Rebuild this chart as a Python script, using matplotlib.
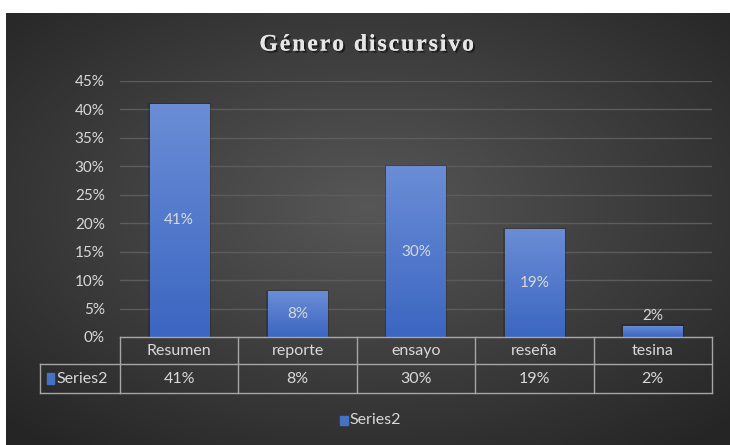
import numpy as np
import matplotlib.pyplot as plt
from matplotlib.transforms import blended_transform_factory
from matplotlib.patches import Rectangle
import matplotlib.patheffects as pe

categories = ['Resumen', 'reporte', 'ensayo', 'reseña', 'tesina']
values = [0.41, 0.08, 0.30, 0.19, 0.02]
labels = ['41%', '8%', '30%', '19%', '2%']
series_name = 'Series2'
title = 'Género discursivo'
yticks = [0, 0.05, 0.10, 0.15, 0.20, 0.25, 0.30, 0.35, 0.40, 0.45]

W, H = 730, 445
txt_col = '#d9d9d9'
line_col = '#a6a6a6'
bar_col = '#4472c4'
font = 'Lato'

fig = plt.figure(figsize=(W / 100, H / 100), dpi=100)
fig.patch.set_facecolor('white')

def fx(x):
    return x / W

def fy(y):
    return 1 - y / H

# dark radial background
bg = fig.add_axes([fx(6), 0, 1 - fx(6), fy(13)])
bg.axis('off')
yy, xx = np.mgrid[0:1:300j, 0:1:500j]
r = np.sqrt(((xx - 0.5) / 0.75) ** 2 + ((yy - 0.45) / 0.75) ** 2)
shade = np.clip(0x57 - (0x57 - 0x25) * r / 0.95, 0x25, 0x57) / 255
bg.imshow(np.dstack([shade, shade, shade]), aspect='auto', extent=[0, 1, 0, 1])
bg.set_xlim(0, 1)
bg.set_ylim(0, 1)

# main axes
ax = fig.add_axes([fx(120), fy(337), fx(712) - fx(120), fy(81) - fy(337)])
ax.patch.set_alpha(0)
x = np.arange(len(categories))
bars = ax.bar(x, values, width=0.5, color=bar_col, zorder=3)

grad = np.linspace(0, 1, 200)[:, None]
top = np.array([0x6b, 0x8d, 0xd6]) / 255
bot = np.array([0x3b, 0x66, 0xc1]) / 255
grad_img = top * (1 - grad[..., None]) + bot * grad[..., None]
for b in bars:
    x0, w, h = b.get_x(), b.get_width(), b.get_height()
    ax.add_patch(Rectangle((x0 - 0.015, 0), w + 0.03, h + 0.002, color='black',
                           alpha=0.18, zorder=2, lw=0))
    im = ax.imshow(grad_img, extent=[x0, x0 + w, 0, h], aspect='auto', zorder=4)
    im.set_clip_path(b)

for xi, v, lab in zip(x, values, labels):
    if v >= 0.05:
        ax.text(xi, v / 2, lab, ha='center', va='center', color=txt_col,
                fontsize=11, family=font, zorder=5)
    else:
        ax.text(xi, v + 0.004, lab, ha='center', va='bottom', color=txt_col,
                fontsize=11, family=font, zorder=5)

ax.set_xlim(-0.5, len(categories) - 0.5)
ax.set_ylim(0, 0.45)
ax.set_yticks(yticks)
ax.set_yticklabels([f'{int(round(t * 100))}%' for t in yticks], color=txt_col,
                   fontsize=11, family=font)
ax.tick_params(axis='y', length=0, pad=11)
ax.set_xticks([])
ax.grid(axis='y', color='#5c5c5c', lw=1, zorder=1)
for s in ax.spines.values():
    s.set_visible(False)

# data table under the plot
tr = blended_transform_factory(ax.transData, fig.transFigure)
ft = fig.transFigure
edges = np.arange(len(categories) + 1) - 0.5
lk = dict(color=line_col, lw=1, zorder=6)
for yl in (337, 364, 393):
    ax.plot([edges[0], edges[-1]], [fy(yl), fy(yl)], transform=tr, clip_on=False, **lk)
for e in edges:
    ax.plot([e, e], [fy(337), fy(393)], transform=tr, clip_on=False, **lk)
fig.add_artist(plt.Line2D([fx(40), fx(120)], [fy(364), fy(364)], transform=ft, **lk))
fig.add_artist(plt.Line2D([fx(40), fx(120)], [fy(393), fy(393)], transform=ft, **lk))
fig.add_artist(plt.Line2D([fx(40), fx(40)], [fy(364), fy(393)], transform=ft, **lk))

for xi, cat, lab in zip(x, categories, labels):
    ax.text(xi, fy(351), cat, transform=tr, ha='center', va='center',
            color=txt_col, fontsize=11.5, family=font)
    ax.text(xi, fy(379), lab, transform=tr, ha='center', va='center',
            color=txt_col, fontsize=11.5, family=font)
fig.add_artist(Rectangle((fx(47), fy(384)), fx(7), fy(373) - fy(384),
                         transform=ft, color=bar_col))
fig.text(fx(56), fy(379), series_name, ha='left', va='center', color=txt_col,
         fontsize=11.5, family=font)

# legend
fig.add_artist(Rectangle((fx(340), fy(425)), fx(8), fy(416) - fy(425),
                         transform=ft, color=bar_col))
fig.text(fx(349), fy(420), series_name, ha='left', va='center', color=txt_col,
         fontsize=11.5, family=font)

# title, spaced out a little like the original
spaced = '\u200a'.join(title)
fig.text(fx(367), fy(45), spaced, ha='center', va='center', color='#e6e6e6',
         fontsize=17, fontweight='bold', family=['Liberation Serif', 'DejaVu Serif'],
         path_effects=[pe.withSimplePatchShadow(offset=(1.5, -1.5), alpha=0.5,
                                                shadow_rgbFace='black'),
                       pe.Normal()])

fig.savefig('out.png', dpi=100)
